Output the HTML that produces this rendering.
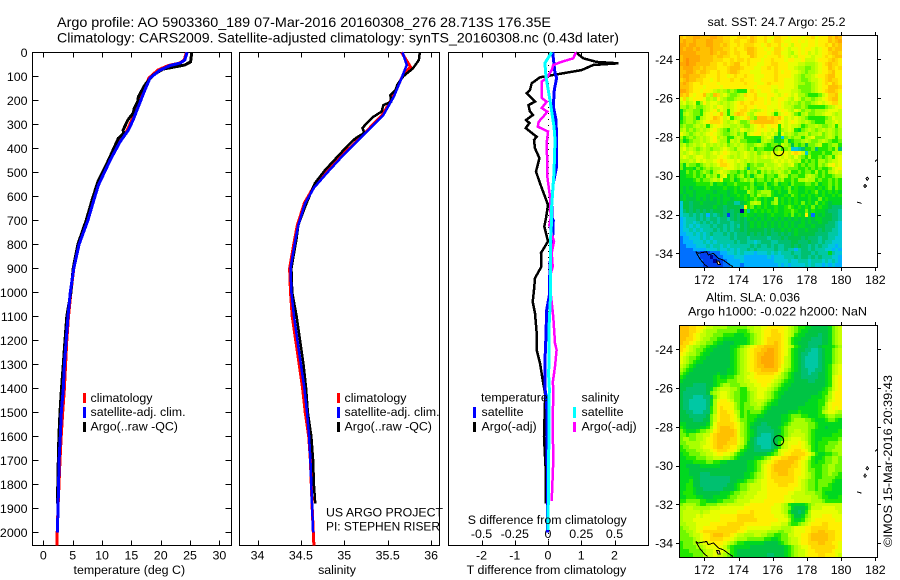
<!DOCTYPE html>
<html lang="en">
<head>
<meta charset="utf-8">
<title>Argo profile 5903360_189</title>
<style>
html,body{margin:0;padding:0;background:#fff;width:900px;height:580px;overflow:hidden}
svg{display:block;position:absolute;left:0;top:0}
text{font-family:"Liberation Sans",sans-serif;font-size:12.4px;fill:#000}
</style>
</head>
<body>
<svg id="chart" xmlns="http://www.w3.org/2000/svg" width="900" height="580" viewBox="0 0 900 580">
  <rect x="0" y="0" width="900" height="580" fill="#fff"/>
  <text x="57" y="27" textLength="494" lengthAdjust="spacingAndGlyphs" style="font-size:14px">Argo profile: AO 5903360_189 07-Mar-2016 20160308_276 28.713S 176.35E</text>
  <text x="57" y="42.5" textLength="562" lengthAdjust="spacingAndGlyphs" style="font-size:14px">Climatology: CARS2009. Satellite-adjusted climatology: synTS_20160308.nc (0.43d later)</text>

  <g id="p1"></g>
  <g id="p2"></g>
  <g id="p3"></g>
  <g id="m1"></g>
  <g id="m2"></g>

  <text x="129.3" y="574" text-anchor="middle">temperature (deg C)</text>
  <text x="337" y="574" text-anchor="middle">salinity</text>
  <text x="466.7" y="574" textLength="159.5" lengthAdjust="spacingAndGlyphs">T difference from climatology</text>
  <text x="467.7" y="524" textLength="159" lengthAdjust="spacingAndGlyphs">S difference from climatology</text>

  <g>
    <rect x="83" y="393" width="3" height="10" fill="#f00"/>
    <rect x="83" y="407" width="3" height="11" fill="#00f"/>
    <rect x="83" y="422" width="3" height="10" fill="#000"/>
    <text x="90.5" y="402">climatology</text>
    <text x="90.5" y="416">satellite-adj. clim.</text>
    <text x="90.5" y="430.5">Argo(..raw -QC)</text>
  </g>
  <g>
    <rect x="337" y="393" width="3" height="10" fill="#f00"/>
    <rect x="337" y="407" width="3" height="11" fill="#00f"/>
    <rect x="337" y="422" width="3" height="10" fill="#000"/>
    <text x="344.5" y="402">climatology</text>
    <text x="344.5" y="416">satellite-adj. clim.</text>
    <text x="344.5" y="430.5">Argo(..raw -QC)</text>
  </g>
  <text x="326" y="516.5" textLength="117" lengthAdjust="spacingAndGlyphs">US ARGO PROJECT</text>
  <text x="326" y="530.5" textLength="114" lengthAdjust="spacingAndGlyphs">PI: STEPHEN RISER</text>

  <g>
    <text x="481" y="401.5">temperature</text>
    <text x="581.5" y="401.5">salinity</text>
    <rect x="473" y="407" width="3" height="11" fill="#00f"/>
    <rect x="473" y="422" width="3" height="10" fill="#000"/>
    <rect x="573" y="407" width="3" height="11" fill="#0ff"/>
    <rect x="573" y="422" width="3" height="10" fill="#f0f"/>
    <text x="481.5" y="416">satellite</text>
    <text x="481.5" y="430.5">Argo(-adj)</text>
    <text x="581.5" y="416">satellite</text>
    <text x="581.5" y="430.5">Argo(-adj)</text>
  </g>

  <text x="707.5" y="26" textLength="138" lengthAdjust="spacing">sat. SST: 24.7 Argo: 25.2</text>
  <text x="706" y="301.5" textLength="94" lengthAdjust="spacingAndGlyphs">Altim. SLA: 0.036</text>
  <text x="688" y="315.5" textLength="179" lengthAdjust="spacingAndGlyphs">Argo h1000: -0.022 h2000: NaN</text>
  <text transform="translate(892,547) rotate(-90)" textLength="172" lengthAdjust="spacingAndGlyphs">©IMOS 15-Mar-2016 20:39:43</text>
</svg>

<script>
/* ---------- tick labels ---------- */
const depthTicks = [0,100,200,300,400,500,600,700,800,900,1000,1100,1200,1300,1400,1500,1600,1700,1800,1900,2000];
const tempTicks = [0,5,10,15,20,25,30];
const salTicks = [34,34.5,35,35.5,36];
const tDiffTicks = [-2,-1,0,1,2];
const sDiffTicks = [-0.5,-0.25,0,0.25,0.5];
const lonTicks = [172,174,176,178,180,182];
const latTicks = [-24,-26,-28,-30,-32,-34];

/* ---------- temperature profiles ---------- */
const tempArgoDepth = [0,40,53,70,95,136,185,205,233,254,282,324,338,358,449,539,608,700,800,900,1000,1100,1200,1300,1400,1500,1600,1700,1800,1880];
const tempArgoValue = [25.3,25.1,24.1,20.4,18.7,17.3,16.2,16.1,15.5,15.3,14.4,13.6,13.7,12.8,11.1,9.3,8.4,7.3,5.9,5.1,4.7,4.0,3.7,3.4,3.1,2.85,2.65,2.55,2.47,2.4];
const tempSatDepth = [0,32,45,55,74,107,157,226,282,324,372,449,553,608,700,800,900,1000,1100,1200,1300,1400,1500,1600,1700,1800,1900,2000];
const tempSatValue = [24.5,24.1,23.3,21.6,19.9,18.2,17.3,16.2,15.3,14.5,13.1,11.4,9.4,8.7,7.6,6.1,5.2,4.6,4.2,3.9,3.6,3.4,3.06,2.9,2.7,2.6,2.5,2.4];
const tempClimDepth = [0,32,45,55,74,107,157,226,282,324,372,449,553,608,700,800,900,1000,1100,1200,1300,1400,1500,1600,1700,1900,2055];
const tempClimValue = [24.4,24.0,23.2,21.3,19.5,18.0,17.1,16.0,15.1,14.3,13.0,11.3,9.4,8.6,7.5,6.0,5.2,4.7,4.3,4.0,3.8,3.6,3.3,3.05,2.85,2.5,2.3];

/* ---------- salinity profiles ---------- */
const salArgoDepth = [0,32,67,100,136,157,178,206,220,247,270,303,316,336,358,400,490,546,643,720,775,900,1000,1100,1200,1300,1400,1500,1600,1700,1800,1880];
const salArgoValue = [35.87,35.86,35.79,35.68,35.61,35.59,35.53,35.54,35.45,35.43,35.33,35.24,35.21,35.23,35.13,35.01,34.78,34.66,34.55,34.47,34.45,34.39,34.40,34.45,34.49,34.53,34.56,34.58,34.62,34.64,34.65,34.665];
const salSatDepth = [0,53,107,185,261,331,428,503,565,628,720,775,900,1000,1100,1200,1300,1400,1500,1600,1700,1800,1900,2000];
const salSatValue = [35.67,35.72,35.66,35.57,35.45,35.26,34.99,34.80,34.65,34.55,34.47,34.44,34.38,34.39,34.42,34.46,34.50,34.54,34.57,34.595,34.61,34.62,34.63,34.64];
const salClimDepth = [0,60,107,185,261,331,428,503,565,628,720,775,900,1000,1100,1200,1300,1400,1500,1600,1700,1900,2055];
const salClimValue = [35.66,35.76,35.66,35.56,35.44,35.25,34.98,34.79,34.64,34.54,34.46,34.43,34.37,34.38,34.40,34.44,34.48,34.52,34.55,34.59,34.61,34.63,34.65];

/* ---------- difference profiles ---------- */
const dTArgoDepth = [0,25,40,46,53,74,92,104,129,157,170,206,220,247,261,282,295,316,352,365,400,441,497,546,636,691,726,788,836,893,941,990,1039,1087,1171,1240,1295,1366,1420,1460,1600,1740,1880];
const dTArgoValue = [0.84,1.06,1.46,2.11,1.36,1.01,0.26,-0.24,-0.49,-0.54,-0.64,-0.39,-0.59,-0.54,-0.45,-0.66,-0.56,-0.67,-0.34,-0.42,-0.39,-0.26,-0.36,-0.24,0,-0.06,-0.11,0,-0.21,-0.2,-0.39,-0.42,-0.46,-0.39,-0.34,-0.34,-0.24,-0.16,-0.09,-0.09,-0.12,-0.07,-0.07];
const dTSatDepth = [0,87,107,157,226,282,352,476,545,628,691,700,768,880,1013,1073,1212,1280,1400,1460,1740,1880,2000];
const dTSatValue = [0.14,0.21,0.26,0.19,0.16,0.24,0.26,0.26,0.16,0.11,0.12,0.16,0.14,0.06,0.04,-0.04,-0.07,-0.09,-0.09,-0.04,-0.02,-0.02,-0.02];
const dSSatDepth = [0,45,102,200,310,365,500,640,691,768,1000,1140,1350,1400,1870,1990];
const dSSatValue = [0.028,-0.023,-0.015,0.015,0.045,0.053,0.045,0.028,0.028,0.02,0.02,0.008,0.005,0.01,0.002,0];
const dSArgoDepth = [0,25,40,53,74,107,122,190,206,232,247,268,289,310,330,378,476,518,602,691,720,788,836,893,935,1003,1103,1212,1240,1310,1378,1393,1560,1700,1870];
const dSArgoValue = [0.21,0.19,0.10,0.04,0.028,-0.01,-0.047,-0.047,-0.01,-0.047,-0.005,-0.035,-0.07,-0.077,0,-0.01,-0.005,-0.005,0.015,0.02,0.01,0.045,0.028,0.035,0.015,0.02,0.04,0.053,0.065,0.053,0.035,0.04,0.035,0.04,0.028];

/* ---------- sea surface temperature field (colour-scale level per 0.2 degree cell) ---------- */
const sstRows = [
"gfgghhggghhggffeefffegfeefedffeedeeedeefdeeegfhg",
"ghgghggghhgggffeffeefgfeefdeffeddeededeedeeegfgh",
"hhghhggghhggfgfeefefffeedefeefdedceeddeedeefegfg",
"hghhghggghgggffefeefggfeededffedcddedeedcdeegfgg",
"hhhhhgggghgfggfeffeeggfeeedeffddcbdedecdcdeefggf",
"ghhhhhggggfggffeefeeegfeedeeefedcdceeddcddefefgg",
"ghihhhggggfffeefeffefeeedeefeeedeeddecccdeeefgfe",
"hhihhggggffeefefggeefeeddeeffeeedddccbbbcdefgffe",
"ghhhggfgfffeeefgggfeeeddeefefeeeddcbbaabcdeegfef",
"gghhgfggfeefeefggfeeedddeeeefedeeddcbabbcdeefgee",
"ghhgggffeeefeedefeefeedddeeefeeeedcbabbcdeefggee",
"fghggffeedefeeefeefeeeddeeeefeedddcbaabccdefgffe",
"ghgfeefeeeedeeeeeeefeeeddefeeeedddcbbaabcdefegfe",
"gggfeeedeeeedeeeeeeeeedeeeeddeedddcaaaabcdeegggf",
"hhgfeedeedcbcbaba999dfedeeedcddddccbaaabcdefggfe",
"gfgedeegcbgfcdbaabcfeefdddeedcdedcdbba999acdffgd",
"dfcdeeedbcbecbaabccdeefeedecdeedcbdcabbabcdefggd",
"cdbcd9becddcbcbcdefeefeeededdedcbcbabaabcdcdeffd",
"bbabcaabcdcedcbcdeefeedeeedddedccbaaba99999abcde",
"8abbaa9bcdebdc9cdeffecbcdedecdedcbdcabbabbbcdddc",
"8bcbaa9cdedegc9cfgfecbdeeedc9cdedca9bcaabbcddcbc",
"8abba8bcdegfecd9bcdefbagggfgfgecdcdcba99999abdcc",
"9abbabcdefffecbcdcaabfggggggfedcdedcbcba999bbcdc",
"abaabcbc9cdedccbbcbaacdefedee9dcdccb9abbcbaabc9c",
"bcababcbcdecba9bcbdcbcdededcd9bcdc98abcbabcbcbab",
"dcbabcbcdedcbaabcab9cdeecdcdb8dbcbabbcabbcabcbab",
"b9ababcbcdebcb99bcb99999bcdb784ababb9bcdaaabcb9b",
"a89abbcbcdecbb9cbcaa9998bcba889b89aabcbaabcba99a",
"bcabcbcdbcbcbcabcbcbaabcba9aa9cba7a9a7aabc99abb9",
"cdbcbabcbabbcdcbaccbab9aa999ab9ab445699a6999a9b6",
"cbcdcbccbcdcdedccbcdcbcabcbdcdedcefec4a999a99bbc",
"cdcbcddcbccdedcbcbcdcbcbcdcdcdcdcbdba9b99a9ab9cd",
"bbbcbdcdccdefeddcdcbcbcbbbbcdcdcdcbc9a9a9bbabccd",
"a8baa9abcbcdffedcbcb9abaacbbcdcbcda9a9aa9babdecd",
"a8998a9ababbcdedcbca6aabcbcbcbcbaaa99a9a9a99acde",
"88a9a9aba9bcdcbaa9a9bab9bababcbab99a9aa9b9a9bcdc",
"8899a9a9bab9cd9a9ab9a8abb9aa9bcb9aa99bcba9a99abb",
"88889a9aabcbd99a89abab9aa9a9bab99a9bbcbb9a99a9a9",
"888889999a899899a9999a899a89a8998a999aa9a899a9a9",
"8787888898888988989a9a988a989989a89889998989a8a9",
"87887888887888789888ba9abbb98988a9988989a8989898",
"787878887888787889898a9baab988898a98989898988989",
"7877787878787887888989a98988b898989888988a898888",
"477677877778787755789bcb898ab8989898a898a8987888",
"4776777777877677776e9a8989889889a989898a89887666",
"467676767677767677095898989898899a988a8988876665",
"455656563656761676898878878988898a898e8287877665",
"345556565665665676768787878787878787878788777665",
"345545656565666566767878787878787877878778776654",
"345454555656656565767878787878787878877877766654",
"344545455565656566767777767677878787787776766554",
"334454545655565656667676767667676787777766665554",
"233444545455555656665666665666767777676665665544",
"233344454545555565665545666556666776667665655444",
"223334445455454555555656556565566767665656554434",
"222233334445445454556565555565565535665655544343",
"222222111222334454544434445454555655666565558544",
"222222111012233344433333334344455565665656555443",
"222222211101123333433333333344445445554555454543",
"222222211111122333233333333334343444454544343433"
];

/* ---------- sea level anomaly field (colour-scale level per 0.2 degree cell) ---------- */
const slaRows = [
"gggffeedccbbbbaaaaaabbccddeeeeedcba9988777778abc",
"gggffedcbbbaaaaaa999abccdeeffeedcba9887777778abc",
"gggfedccbbaaa99988899abcdeefffedcb98877776778abc",
"ggffedcbbaa9988888889abcdeffffedb988777666778abc",
"gffedcbbaa98877788889abcdeffgfedb987776666778abc",
"ffdcbbaa9887777889abcdeffggggfedcb987766678889ab",
"fedcbaa9887777789abcdeffgghhgfedb987766556788abc",
"edcbba98877777789abcdefgghhhgfedb987665556788abc",
"dcbaa988777777789abcdefghhhhgfecb987655556788abc",
"dcba9887777777789abcdefghhhhgfecb987655556788abc",
"cba98777777777789abcdefgghhhgfdcb987655556789bcd",
"ba987777777777889abcdeffgggggedba987665566789bcd",
"a9877777777877889abccdefffffedba9877665667789bcd",
"9877777777898899abbcddeeeeeedcba9877666667789cde",
"87777777778999aaabbccddeeeedcba98877776677789cde",
"777766667789abbaaabbccddeedcba988777777777789cde",
"7766666678abcccbba99bccdddcba988777777777789acde",
"766666667abcddcbaa99abcddcba9887777777777899bdee",
"7666555667acddcbaa99abcddcba987777777778889abdee",
"7665555568bdeedcaa99abcccba9877777777788899acdee",
"7665555568beeeedba9aabbcba98877777777888899bdeee",
"7665555569befeedba9aaabba98777777778888889abdede",
"7766555669beffeecb9a9aaa987777778889888889bcddcb",
"777666667acefffedb9a9998877777889aaa9988899abbaa",
"777766677acefffedcaa9987777777889abbbaa98889aa98",
"887777778adfffffedba987766777789abbbbbaa98888888",
"987777889bdfgggfedba97766667789abbbbbbaa98878888",
"a98889aabcefggggfdba98766666779abbccbba988888889",
"aa9aabbccefgggggfdba98765556789abccccba988888999",
"abbaabbcdefggggffdca97655556789bcdddcba98899999a",
"aabbbbccdefgggfffdca8765555679bcdddedca98999aaab",
"9aabbbcddefggffeecb98766555679bcdeeedcb9899aaabb",
"99aaabbccdefffeedb98776666679cddeeffedb9899aabbb",
"899aaabbccdeeddca98777777789acdeeffffedb98899aab",
"88999aaabbcccbba987777889abdeeffgggfedb9889aabba",
"88889999aa9988777777889abcdefgggggfedca9899aabba",
"88777788888877777777889acdefgggggffedca999aabbaa",
"88877777777777777777889acdefggggffeedcaa99aabbaa",
"8887776667777777777889abcdeffgggffeedcba99aabaa9",
"8888776666666667777889abcdefffffffeddcba99aaaa99",
"88897766666666677889aabcddeeffffffedcbaa9aaaa988",
"889977666666667789aabcccddeeefffeeedcbaa9aaa9888",
"889987766666677789aabcccddeeeeeeeeddcbaa9a999888",
"8999877777778889aabbcccdddeeeeeeddcccbbbaa988888",
"889998877788889aabbcccddddeeeeeddccccccbba998889",
"99aaaa9988899aaabccccddddeeeeeedddcccccbbba99999",
"abbbba99aaabbbcccccddeeeeeeeddcb988889abcccccccc",
"bbccbbbbbcccdddddddeeeeeeeedddcba87778acccddddcc",
"bcccccbccddddddddeeeefeeeeedddcb977679bddddddddc",
"bccccdcdddddeeeeefffffeeeeeedddca9778abdddeeeddd",
"bcccddddddddeeeeeffffffeeeeeedddb9889bcdeeeeeedd",
"bbcccddddeeeeefffffeeeeeeeedddcca99abcdeeeffeeee",
"abbccddeeeefffffffeedddddddcccbbbcdddeefffffeeee",
"aabbcdeffffffffffeedccccccbbbaabbcdddeeffggfffee",
"aaabccdeefgggffedccbbbccbbaa99aaccddeefgggggffee",
"aaaabcdeeffffeedcbbbaaaaa99889aabccdeefgggggffee",
"9aaabbcddeeeedcba99888888777789abccdeefffggffeed",
"9aaaabbcdddedca988888777777777789abcddefffffffed",
"999aaaabccdddcb987777777777777789abccdeefffffedd",
"9999aaabccdccba987777777776677789abccdeeeffeeedc"
];

/* ---------- coastline outlines (longitude / latitude) ---------- */
const coastNorthLon = [171.5,171.65,172.14,172.23,172.53,172.82,173.11,173.5,173.68];
const coastNorthLat = [-33.92,-34.0,-33.92,-34.09,-34.0,-34.26,-34.35,-34.6,-34.69];
const coastSouthLon = [171.5,171.75,172.04,172.2];
const coastSouthLat = [-33.92,-34.3,-34.6,-34.69];
const landPatchLon = [172.72,172.86,172.94,172.8];
const landPatchLat = [-34.4,-34.4,-34.58,-34.58];
const islandLons = [[181.45,181.53,181.61,181.53,181.45],[181.32,181.4,181.48,181.4,181.32],[180.93,181.06,181.2],[181.98,182.06,182.1]];
const islandLats = [[-30.15,-30.07,-30.15,-30.23,-30.15],[-30.53,-30.45,-30.53,-30.61,-30.53],[-31.36,-31.39,-31.43],[-29.27,-29.21,-29.17]];

/* ---------- float position ---------- */
const floatLon = [176.35];
const floatLat = [-28.713];

/* ---------- colour scale for the map levels ---------- */
const levelColours = ["#000090","#0040f0","#0070ff","#00b0ff","#00c8d8","#00c8a4","#00c070","#00c444","#00d820","#20e800","#70f800","#a8ff00","#c8ff00","#e8ff00","#fff000","#ffd800","#ffc000","#ffa800","#ff9000"];

const NS = "http://www.w3.org/2000/svg";
function mk(tag, attrs, parent){
  const el = document.createElementNS(NS, tag);
  for (const k in attrs) el.setAttribute(k, attrs[k]);
  parent.appendChild(el);
  return el;
}

/* ---------- axis functions ---------- */
const yDepth = d => 52.3 + d * 0.24;
const xTemp = v => 43.3 + v * 5.87;
const xSal = v => 344.3 + (v - 35) * 86.8;
const xTDiff = v => 548 + v * 33.25;
const xSDiff = v => 548 + v * 133;
const xLon = v => 704.3 + (v - 172) * 17.1;
const yLat1 = v => 59.3 + (-24 - v) * 19.4;
const yLat2 = v => 349.3 + (-24 - v) * 19.37;

function drawProfile(parent, xFn, depths, values, colour, width){
  const pts = depths.map((d, i) => xFn(values[i]).toFixed(1) + "," + yDepth(d).toFixed(1)).join(" ");
  const el = mk("polyline", {points: pts, fill: "none", stroke: colour, "stroke-width": width, "stroke-linejoin": "miter", "shape-rendering": "crispEdges"}, parent);
  return el;
}
function drawFrame(parent, x0, y0, x1, y1){
  const el = mk("rect", {x: x0, y: y0, width: x1 - x0, height: y1 - y0, fill: "none", stroke: "#000", "stroke-width": 1, "shape-rendering": "crispEdges"}, parent);
  
  
}
function drawTick(parent, x1, y1, x2, y2){
  const el = mk("line", {x1: x1, y1: y1, x2: x2, y2: y2, stroke: "#000", "stroke-width": 1, "shape-rendering": "crispEdges"}, parent);
  
  
}
function drawLabel(parent, x, y, str, anchor){
  const el = mk("text", {x: x, y: y, "text-anchor": anchor}, parent);
  el.textContent = str;
  
  
}
function snap(v){ return Math.round(v) + 0.5; }

/* ---------- temperature panel ---------- */
const p1 = document.getElementById("p1");
drawFrame(p1, 32.5, 52.5, 231.5, 545.5);
depthTicks.forEach(d => {
  const y = snap(yDepth(d));
  drawTick(p1, 32.5, y, 38.5, y);
  drawTick(p1, 225.5, y, 231.5, y);
  drawLabel(p1, 27.5, yDepth(d) + 4.5, String(d), "end");
});
tempTicks.forEach(v => {
  const x = snap(xTemp(v));
  drawTick(p1, x, 52.5, x, 57.5);
  drawTick(p1, x, 540.5, x, 545.5);
  drawLabel(p1, xTemp(v), 559.5, String(v), "middle");
});
const tempClimLine = drawProfile(p1, xTemp, tempClimDepth, tempClimValue, "#f00", 3);


const tempArgoLine = drawProfile(p1, xTemp, tempArgoDepth, tempArgoValue, "#000", 3);


const tempSatLine = drawProfile(p1, xTemp, tempSatDepth, tempSatValue, "#00f", 3);



/* ---------- salinity panel ---------- */
const p2 = document.getElementById("p2");
drawFrame(p2, 239.5, 52.5, 439.5, 545.5);
salTicks.forEach(v => {
  const x = snap(xSal(v));
  drawTick(p2, x, 52.5, x, 57.5);
  drawTick(p2, x, 540.5, x, 545.5);
  drawLabel(p2, xSal(v), 559.5, String(v), "middle");
});
const salClimLine = drawProfile(p2, xSal, salClimDepth, salClimValue, "#f00", 3);


const salArgoLine = drawProfile(p2, xSal, salArgoDepth, salArgoValue, "#000", 2.5);


const salSatLine = drawProfile(p2, xSal, salSatDepth, salSatValue, "#00f", 2.5);



/* ---------- difference panel ---------- */
const p3 = document.getElementById("p3");
drawFrame(p3, 448.5, 52.5, 648.5, 545.5);
tDiffTicks.forEach(v => {
  const x = snap(xTDiff(v));
  drawTick(p3, x, 52.5, x, 57.5);
  drawTick(p3, x, 540.5, x, 545.5);
  drawLabel(p3, xTDiff(v), 559.5, String(v), "middle");
});
sDiffTicks.forEach(v => {
  drawLabel(p3, xSDiff(v), 538, String(v), "middle");
});
const zeroLine = mk("line", {x1: snap(xTDiff(0)), y1: 53, x2: snap(xTDiff(0)), y2: 545, stroke: "#000", "stroke-width": 1, "stroke-dasharray": "1 5", "shape-rendering": "crispEdges"}, p3);


const dTArgoLine = drawProfile(p3, xTDiff, dTArgoDepth, dTArgoValue, "#000", 2.5);


const dTSatLine = drawProfile(p3, xTDiff, dTSatDepth, dTSatValue, "#00f", 3);


const dSArgoLine = drawProfile(p3, xSDiff, dSArgoDepth, dSArgoValue, "#f0f", 2.5);


const dSSatLine = drawProfile(p3, xSDiff, dSSatDepth, dSSatValue, "#0ff", 3);



/* ---------- maps ---------- */
const LON_LEFT = 170.54, LON_STEP = 0.198, LAT_TOP = -22.76, LAT_STEP = 0.199;
function drawMap(parent, rows, yLat, top, bottom){
  rows.forEach((row, r) => {
    const y0 = Math.round(yLat(LAT_TOP - r * LAT_STEP));
    const y1 = Math.round(yLat(LAT_TOP - (r + 1) * LAT_STEP));
    for (let c = 0; c < row.length; c++){
      const x0 = Math.round(xLon(LON_LEFT + c * LON_STEP));
      const x1 = Math.round(xLon(LON_LEFT + (c + 1) * LON_STEP));
      const cell = mk("rect", {x: x0, y: y0, width: x1 - x0, height: y1 - y0, fill: levelColours[parseInt(row[c], 36)], "shape-rendering": "crispEdges"}, parent);
      
      
    }
  });
  drawFrame(parent, 679.5, top + 0.5, 877.5, bottom + 0.5);
  lonTicks.forEach(v => {
    const x = snap(xLon(v));
    drawTick(parent, x, top - 3, x, top + 0.5);
    drawTick(parent, x, bottom + 0.5, x, bottom + 4);
    drawLabel(parent, xLon(v), bottom + 17, String(v), "middle");
  });
  latTicks.forEach(v => {
    const y = snap(yLat(v));
    drawTick(parent, 676, y, 679.5, y);
    drawTick(parent, 877.5, y, 881, y);
    drawLabel(parent, 673, yLat(v) + 4.5, String(v), "end");
  });
  const toPts = (lons, lats) => lons.map((v, i) => xLon(v).toFixed(1) + "," + yLat(lats[i]).toFixed(1)).join(" ");
  const coastN = mk("polyline", {points: toPts(coastNorthLon, coastNorthLat), fill: "none", stroke: "#000", "stroke-width": 1, "shape-rendering": "crispEdges"}, parent);
  
  
  const coastS = mk("polyline", {points: toPts(coastSouthLon, coastSouthLat), fill: "none", stroke: "#000", "stroke-width": 1, "shape-rendering": "crispEdges"}, parent);
  
  
  const land = mk("polygon", {points: toPts(landPatchLon, landPatchLat), fill: "#ffc890", stroke: "#000", "stroke-width": 1, "shape-rendering": "crispEdges"}, parent);
  
  
  islandLons.forEach((lons, i) => {
    const island = mk("polyline", {points: toPts(lons, islandLats[i]), fill: "none", stroke: "#000", "stroke-width": 1, "shape-rendering": "crispEdges"}, parent);
    
    
  });
  const marker = mk("circle", {cx: xLon(floatLon[0]), cy: yLat(floatLat[0]), r: 5, fill: "none", stroke: "#000", "stroke-width": 1}, parent);
  
  
}
drawMap(document.getElementById("m1"), sstRows, yLat1, 35, 267);
drawMap(document.getElementById("m2"), slaRows, yLat2, 325, 557);
</script>
</body>
</html>
